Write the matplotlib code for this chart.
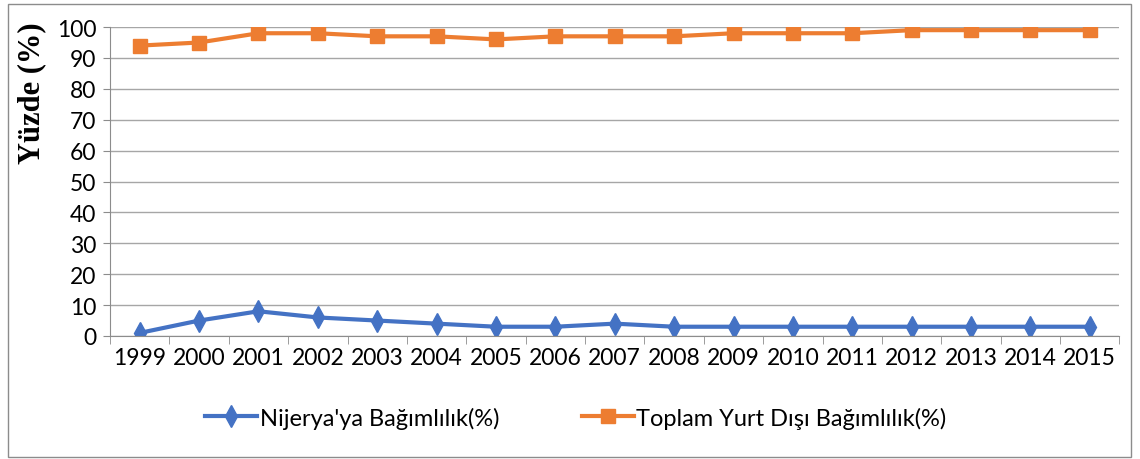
import matplotlib.pyplot as plt
import numpy as np
from matplotlib.patches import Rectangle

years = [str(y) for y in range(1999, 2016)]
nijerya = [1, 5, 8, 6, 5, 4, 3, 3, 4, 3, 3, 3, 3, 3, 3, 3, 3]
toplam = [94, 95, 98, 98, 97, 97, 96, 97, 97, 97, 98, 98, 98, 99, 99, 99, 99]

plt.rcParams['font.family'] = ['Lato', 'DejaVu Sans']

fig = plt.figure(figsize=(11.4, 4.6), dpi=100)
ax = fig.add_axes([0.0965, 0.2674, 0.8855, 0.6716])

x = np.arange(len(years))
ax.plot(x, nijerya, color='#4472C4', linewidth=3, marker='d', markersize=11,
        label="Nijerya'ya Bağımlılık(%)")
ax.plot(x, toplam, color='#ED7D31', linewidth=3, marker='s', markersize=10,
        label='Toplam Yurt Dışı Bağımlılık(%)')

ax.set_xlim(-0.5, len(years) - 0.5)
ax.set_ylim(0, 100)
ax.set_yticks(range(0, 101, 10))
ax.set_xticks(x)
ax.set_xticklabels(years)
ax.set_xticks(np.arange(-0.5, len(years), 1), minor=True)
ax.tick_params(axis='x', which='major', length=0, labelsize=16.5, pad=8)
ax.tick_params(axis='x', which='minor', length=6, color='#8c8c8c')
ax.tick_params(axis='y', length=5, color='#8c8c8c', labelsize=16.5, pad=5)

ax.grid(axis='y', color='#a6a6a6', linewidth=1)
ax.set_axisbelow(True)
for side in ['top', 'right']:
    ax.spines[side].set_visible(False)
for side in ['left', 'bottom']:
    ax.spines[side].set_color('#8c8c8c')

# y label sits high on the axis, not centred
ax.set_ylabel('Yüzde (%)', fontsize=22, fontweight='bold',
              family='Liberation Serif')
ax.yaxis.set_label_coords(-0.063, 0.79)

fig.legend(loc='center', bbox_to_anchor=(0.505, 0.09), ncol=2, frameon=False,
           fontsize=17, handlelength=2.2, columnspacing=3.5, handletextpad=0.1)

fig.patches.append(Rectangle((0.007, 0.005), 0.985, 0.985, transform=fig.transFigure,
                             fill=False, edgecolor='#8c8c8c', linewidth=1))

fig.savefig('out.png', dpi=100)
